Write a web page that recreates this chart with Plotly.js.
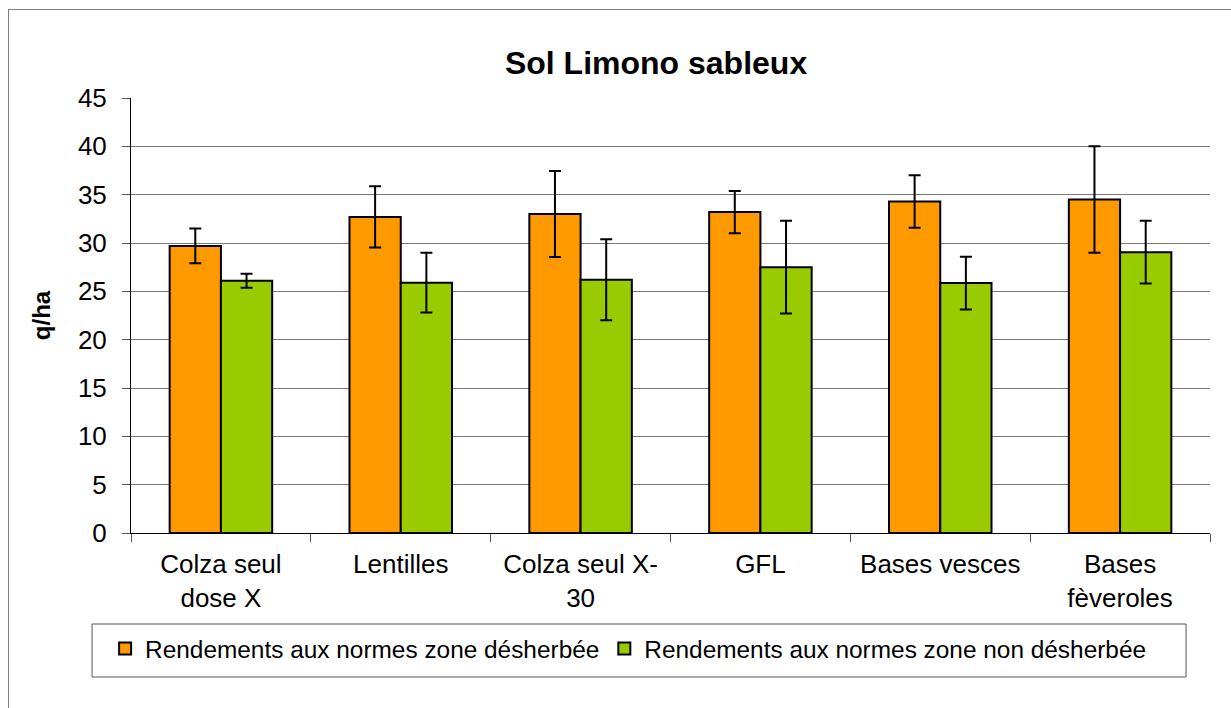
<!DOCTYPE html>
<html>
<head>
<meta charset="utf-8">
<script src="https://cdn.plot.ly/plotly-3.0.1.min.js"></script>
<style>
  html, body { margin: 0; padding: 0; background: #fff; overflow: hidden; }
  #chart { position: absolute; left: 0; top: 0; width: 1231px; height: 708px; }
  #frame { position: absolute; left: 8px; top: 9px; width: 1300px; height: 800px;
           border-left: 1px solid #808080; border-top: 1px solid #808080; pointer-events: none; }
</style>
</head>
<body>
<div id="chart"></div>
<div id="frame"></div>
<script>
const categories = ["Colza seul<br>dose X", "Lentilles", "Colza seul X-<br>30", "GFL", "Bases vesces", "Bases<br>fèveroles"];
const seriesNames = ["Rendements aux normes zone désherbée", "Rendements aux normes zone non désherbée"];
const desherbee = [29.7, 32.7, 33.0, 33.2, 34.3, 34.5];
const desherbeeErr = [1.8, 3.17, 4.45, 2.19, 2.72, 5.5];
const nonDesherbee = [26.1, 25.9, 26.2, 27.5, 25.85, 29.05];
const nonDesherbeeErr = [0.72, 3.1, 4.19, 4.8, 2.73, 3.24];
const yTicks = [0, 5, 10, 15, 20, 25, 30, 35, 40, 45];

const FONT = "Liberation Sans, Arial, sans-serif";

const traces = [
  {
    type: "bar", name: seriesNames[0], x: categories, y: desherbee,
    marker: { color: "#FF9900", line: { color: "#000", width: 2 } },
    error_y: { type: "data", array: desherbeeErr, visible: true, color: "#000", thickness: 2, width: 6 }
  },
  {
    type: "bar", name: seriesNames[1], x: categories, y: nonDesherbee,
    marker: { color: "#99CC00", line: { color: "#000", width: 2 } },
    error_y: { type: "data", array: nonDesherbeeErr, visible: true, color: "#000", thickness: 2, width: 6 }
  }
];

const layout = {
  width: 1231, height: 708,
  paper_bgcolor: "#fff", plot_bgcolor: "#fff",
  margin: { l: 131, r: 21, t: 98, b: 175 },
  font: { family: FONT, size: 26, color: "#000" },
  title: {
    text: "<b>Sol Limono sableux</b>",
    font: { family: FONT, size: 32, color: "#000" },
    x: 0.4866, xref: "paper", xanchor: "center",
    y: 0.912, yref: "container", yanchor: "middle"
  },
  barmode: "group",
  bargap: 0.43,
  bargroupgap: 0,
  showlegend: true,
  legend: {
    orientation: "h",
    x: -0.024, xanchor: "left",
    y: -0.214, yanchor: "top",
    borderwidth: 0, bgcolor: "rgba(0,0,0,0)",
    font: { family: FONT, size: 24.4, color: "#000" },
    itemclick: false, itemdoubleclick: false,
    traceorder: "normal"
  },
  shapes: [
    { type: "rect", xref: "paper", yref: "paper",
      x0: -0.0361, x1: 0.9778, y0: -0.2092, y1: -0.3310,
      line: { color: "#555", width: 1 }, fillcolor: "rgba(0,0,0,0)", layer: "below" }
  ],
  xaxis: {
    type: "category",
    showline: true, linecolor: "#000", linewidth: 1,
    ticks: "outside", tickson: "boundaries", ticklen: 8, tickcolor: "#555",
    ticklabelstandoff: 8,
    showgrid: false,
    tickfont: { family: FONT, size: 26, color: "#000" }
  },
  yaxis: {
    range: [0, 45], tickvals: yTicks, ticktext: yTicks.map(String),
    showline: true, linecolor: "#000", linewidth: 1,
    ticks: "outside", ticklen: 8, tickcolor: "#555",
    ticklabelstandoff: 10,
    showgrid: true, gridcolor: "#7a7a7a", gridwidth: 1,
    zeroline: false,
    tickfont: { family: FONT, size: 26, color: "#000" },
    title: { text: "<b>q/ha</b>", font: { family: FONT, size: 24, color: "#000" }, standoff: 20 }
  }
};

Plotly.newPlot("chart", traces, layout, { displayModeBar: false, staticPlot: true });
</script>
</body>
</html>
